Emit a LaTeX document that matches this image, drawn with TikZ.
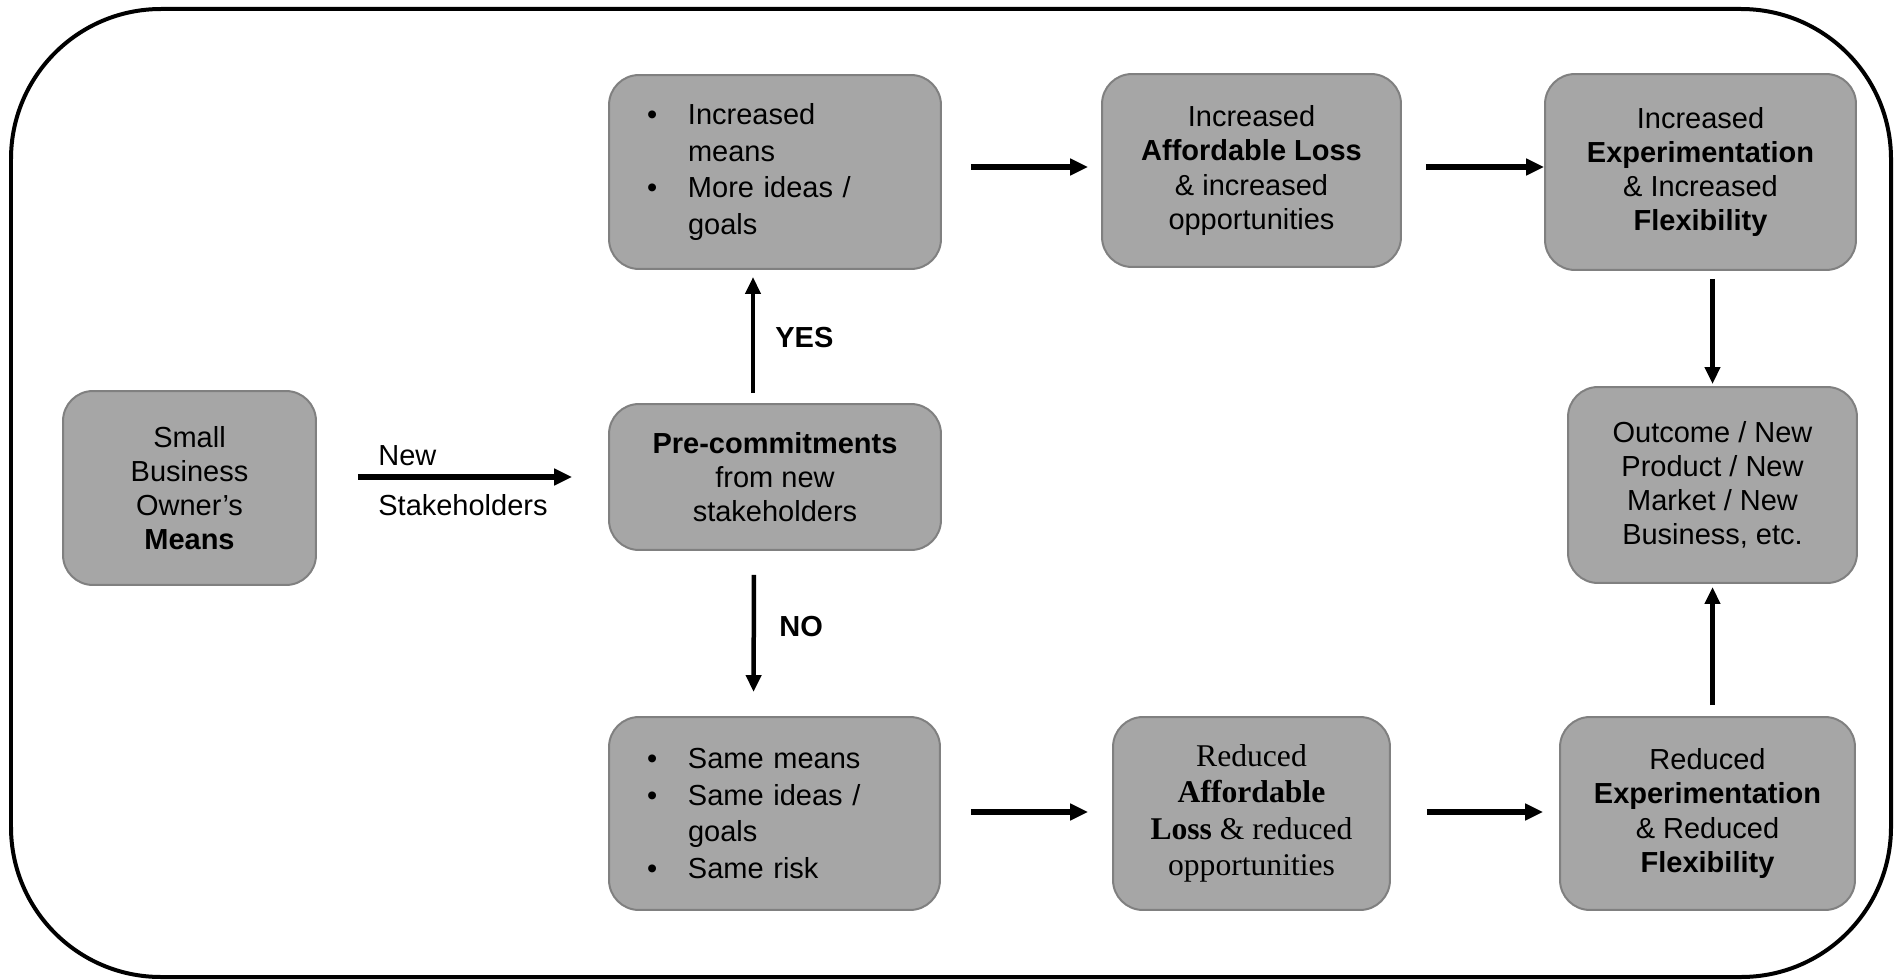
\documentclass[tikz,border=0pt]{standalone}
\usepackage{fontspec}
\setmainfont{Liberation Sans}
\newfontfamily\timesfont{Liberation Serif}
\usetikzlibrary{arrows.meta}

\definecolor{boxfill}{RGB}{166,166,166}
\definecolor{boxline}{RGB}{128,128,128}

\begin{document}
\begin{tikzpicture}[x=0.02cm,y=-0.02cm,
  box/.style={draw=boxline, fill=boxfill, line width=0.04cm,
    rounded corners=0.6cm, align=center, inner sep=0pt,
    font=\fontsize{16.5}{19.4}\selectfont},
  listbox/.style={box, align=left, inner xsep=0.76cm,
    font=\fontsize{16.5}{20.9}\selectfont},
  serifbox/.style={box, font=\timesfont\fontsize{18}{20.8}\selectfont},
  lbl/.style={inner sep=0pt, font=\fontsize{16.5}{19.4}\selectfont},
  harr/.style={line width=0.12cm, -{Triangle[length=0.36cm,width=0.32cm]}},
  varr/.style={line width=0.09cm, -{Triangle[length=0.34cm,width=0.3cm]}}]

\useasboundingbox (0,0) rectangle (1894,980);

% outer frame
\draw[line width=0.08cm, rounded corners=3cm] (11,9) rectangle (1891,977);

% boxes
\node[box, minimum width=5.06cm, minimum height=3.88cm] (means) at (189.5,488)
  {Small\\Business\\Owner’s\\\textbf{Means}};
\node[box, minimum width=6.64cm, minimum height=2.92cm] (pre) at (775,477)
  {\textbf{Pre-commitments}\\from new\\stakeholders};
\node[listbox, text width=5.12cm, minimum height=3.88cm] (incmeans) at (775,172)
  {\makebox[0.82cm][l]{•}Increased\\\hspace*{0.82cm}means\\
   \makebox[0.82cm][l]{•}More ideas /\\\hspace*{0.82cm}goals};
\node[box, minimum width=5.98cm, minimum height=3.86cm] (incal) at (1251.5,170.5)
  {Increased\\\textbf{Affordable Loss}\\\& increased\\opportunities};
\node[box, minimum width=6.22cm, minimum height=3.92cm] (incexp) at (1700.5,172)
  {Increased\\\textbf{Experimentation}\\\& Increased\\\textbf{Flexibility}};
\node[box, minimum width=5.78cm, minimum height=3.92cm] (outcome) at (1712.5,485)
  {Outcome / New\\Product / New\\Market / New\\Business, etc.};
\node[listbox, text width=5.10cm, minimum height=3.86cm] (samemeans) at (774.5,813.5)
  {\makebox[0.82cm][l]{•}Same means\\
   \makebox[0.82cm][l]{•}Same ideas /\\\hspace*{0.82cm}goals\\
   \makebox[0.82cm][l]{•}Same risk};
\node[serifbox, minimum width=5.54cm, minimum height=3.86cm] (redal) at (1251.5,813.5)
  {Reduced\\\textbf{Affordable}\\\textbf{Loss} \& reduced\\opportunities};
\node[box, minimum width=5.90cm, minimum height=3.86cm] (redexp) at (1707.5,813.5)
  {Reduced\\\textbf{Experimentation}\\\& Reduced\\\textbf{Flexibility}};

% labels
\node[lbl, anchor=base west] (newlbl) at (378,465) {New};
\node[lbl, anchor=base west] (stklbl) at (378,515) {Stakeholders};
\node[lbl, anchor=west, font=\fontsize{16.5}{19.4}\selectfont\bfseries] (yes) at (775,338) {YES};
\node[lbl, anchor=west, font=\fontsize{16.5}{19.4}\selectfont\bfseries] (no) at (779,627) {NO};

% connectors
\draw[harr, shorten <=0.82cm, shorten >=0.72cm] (means.east |- pre.west) -- (pre.west);
\draw[varr, shorten <=0.2cm, shorten >=0.14cm]
  ([xshift=-0.44cm]pre.north) -- ([xshift=-0.44cm]incmeans.south);
\draw[varr, shorten <=0.48cm, shorten >=0.48cm]
  ([xshift=-0.42cm]pre.south) -- ([xshift=-0.42cm]samemeans.north);
\draw[harr, shorten <=0.58cm, shorten >=0.26cm]
  ([yshift=0.1cm]incmeans.east) -- ([yshift=0.1cm]incmeans.east -| incal.west);
\draw[harr, shorten <=0.48cm]
  ([yshift=0.07cm]incal.east) -- ([yshift=0.07cm]incal.east -| incexp.west);
\draw[varr, shorten <=0.16cm, shorten >=0.04cm] (outcome.north |- incexp.south) -- (outcome.north);
\draw[varr, shorten <=0.22cm, shorten >=0.06cm] (outcome.south |- redexp.north) -- (outcome.south);
\draw[harr, shorten <=0.6cm, shorten >=0.48cm]
  ([yshift=0.03cm]samemeans.east) -- ([yshift=0.03cm]samemeans.east -| redal.west);
\draw[harr, shorten <=0.72cm, shorten >=0.32cm]
  ([yshift=0.03cm]redal.east) -- ([yshift=0.03cm]redal.east -| redexp.west);

\end{tikzpicture}
\end{document}
